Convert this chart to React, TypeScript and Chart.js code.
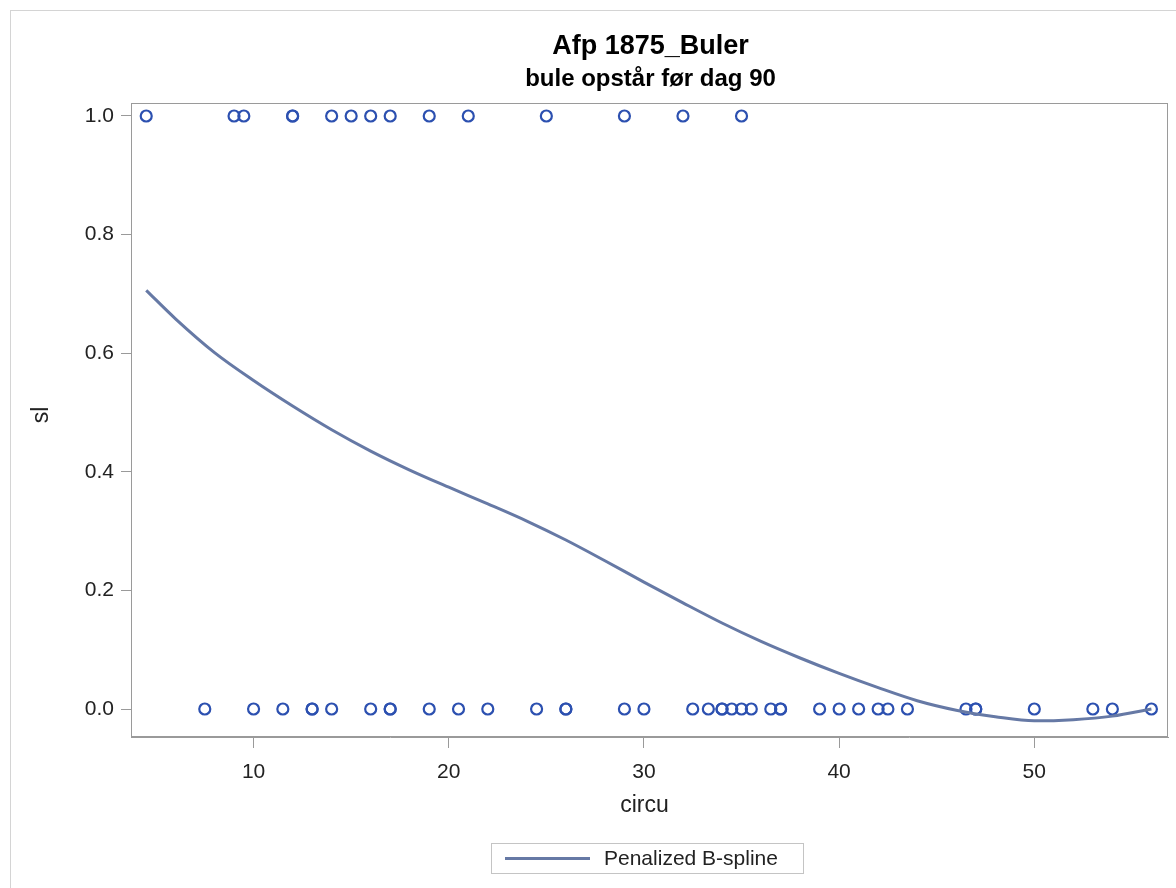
import { useEffect, useRef } from "react";
import { Chart, registerables } from "chart.js";

Chart.register(...registerables);

// ---- data ----
const eventX = [4.5, 9, 9.5, 12, 12, 14, 15, 16, 17, 19, 21, 25, 29, 32, 35]; // sl = 1
const noEventX = [
  7.5, 10, 11.5, 13, 13, 14, 16, 17, 17, 19, 20.5, 22, 24.5, 26, 26, 29, 30,
  32.5, 33.3, 34, 34, 34.5, 35, 35.5, 36.5, 37, 37, 39, 40, 41, 42, 42.5, 43.5,
  46.5, 47, 47, 50, 53, 54, 56,
]; // sl = 0
const splineX = [4.5, 6, 8, 10, 12, 14, 16, 18, 20, 22, 24, 26, 28, 30, 32, 34, 36, 38, 40, 42, 44, 46, 48, 50, 52, 54, 56];
const splineY = [
  0.706, 0.658, 0.601, 0.554, 0.511, 0.471, 0.435, 0.403, 0.374, 0.346, 0.317,
  0.285, 0.25, 0.214, 0.179, 0.145, 0.114, 0.086, 0.06, 0.036, 0.014, -0.002,
  -0.013, -0.02, -0.018, -0.012, 0.0,
];
const xTicks = [10, 20, 30, 40, 50];
const yTicks = [0, 0.2, 0.4, 0.6, 0.8, 1.0];

const titleText = "Afp 1875_Buler";
const subtitleText = "bule opstår før dag 90";
const xLabel = "circu";
const yLabel = "sl";
const legendLabel = "Penalized B-spline";

const FONT = "'Liberation Sans', Arial, Helvetica, sans-serif";
const MARKER = "#2c50b0";
const LINE = "#6679a5";
const AXIS = "#9a9a9a";

const decorPlugin = {
  id: "decor",
  afterDraw(chart: any) {
    const { ctx, chartArea } = chart;
    const { left, right, top, bottom } = chartArea;
    ctx.save();
    // outer frame
    ctx.strokeStyle = "#d4d4d4";
    ctx.lineWidth = 1;
    ctx.strokeRect(10.5, 10.5, 1300, 1000);
    // plot wall border
    ctx.strokeStyle = AXIS;
    ctx.strokeRect(left + 0.5, top + 0.5, right - left - 1, bottom - top - 1);

    const cx = (left + right) / 2;
    ctx.fillStyle = "#000";
    ctx.textAlign = "center";
    ctx.textBaseline = "middle";
    ctx.font = `bold 27px ${FONT}`;
    ctx.fillText(titleText, cx + 1, 47);
    ctx.font = `bold 24px ${FONT}`;
    ctx.fillText(subtitleText, cx + 1, 79);

    // axis titles
    ctx.font = `23px ${FONT}`;
    ctx.fillStyle = "#222";
    ctx.fillText(xLabel, cx - 5, 806);
    ctx.save();
    ctx.translate(42, (top + bottom) / 2 - 5);
    ctx.rotate(-Math.PI / 2);
    ctx.fillText(yLabel, 0, 0);
    ctx.restore();

    // legend
    ctx.strokeStyle = "#c4c4c4";
    ctx.lineWidth = 1;
    ctx.strokeRect(491.5, 843.5, 312, 30);
    ctx.strokeStyle = LINE;
    ctx.lineWidth = 3;
    ctx.beginPath();
    ctx.moveTo(505, 858.5);
    ctx.lineTo(590, 858.5);
    ctx.stroke();
    ctx.fillStyle = "#222";
    ctx.textAlign = "left";
    ctx.font = `21px ${FONT}`;
    ctx.fillText(legendLabel, 604, 859);
    ctx.restore();
  },
};

export default function App() {
  const ref = useRef<HTMLCanvasElement | null>(null);
  useEffect(() => {
    if (!ref.current) return;
    const points = [
      ...eventX.map((x) => ({ x, y: 1 })),
      ...noEventX.map((x) => ({ x, y: 0 })),
    ];
    const spline = splineX.map((x, i) => ({ x, y: splineY[i] }));
    const chart = new Chart(ref.current, {
      type: "scatter",
      data: {
        datasets: [
          {
            type: "scatter",
            label: "sl",
            data: points,
            pointStyle: "circle",
            pointRadius: 5.5,
            pointBorderWidth: 2.2,
            pointBorderColor: MARKER,
            pointBackgroundColor: "rgba(0,0,0,0)",
            borderColor: MARKER,
            backgroundColor: "rgba(0,0,0,0)",
            clip: false,
            order: 2,
          } as any,
          {
            type: "line",
            label: legendLabel,
            data: spline,
            borderColor: LINE,
            borderWidth: 3,
            pointRadius: 0,
            cubicInterpolationMode: "monotone",
            fill: false,
            clip: false,
            order: 1,
          } as any,
        ],
      },
      options: {
        animation: false,
        responsive: false,
        maintainAspectRatio: false,
        layout: { padding: { left: 0, top: 103, right: 8, bottom: 0 } },
        plugins: {
          legend: { display: false },
          title: { display: false },
          tooltip: { enabled: false },
        },
        scales: {
          x: {
            type: "linear",
            min: 3.72,
            max: 56.85,
            afterBuildTicks: (s: any) => {
              s.ticks = xTicks.map((v) => ({ value: v }));
            },
            afterFit: (s: any) => {
              s.height = 151;
            },
            grid: {
              drawOnChartArea: false,
              drawTicks: true,
              tickLength: 11,
              color: AXIS,
            },
            border: { display: true, color: AXIS },
            ticks: {
              padding: 12,
              color: "#222",
              font: { family: FONT, size: 21 },
              maxRotation: 0,
              callback: (v: any) => String(v),
            },
          },
          y: {
            type: "linear",
            min: -0.0472,
            max: 1.0219,
            afterBuildTicks: (s: any) => {
              s.ticks = yTicks.map((v) => ({ value: v }));
            },
            afterFit: (s: any) => {
              s.width = 131;
            },
            grid: {
              drawOnChartArea: false,
              drawTicks: true,
              tickLength: 10,
              color: AXIS,
            },
            border: { display: true, color: AXIS },
            ticks: {
              padding: 7,
              color: "#222",
              font: { family: FONT, size: 21 },
              callback: (v: any) => Number(v).toFixed(1),
            },
          },
        },
      },
      plugins: [decorPlugin],
    });
    return () => chart.destroy();
  }, []);

  return (
    <div style={{ position: "fixed", left: 0, top: 0, width: 1176, height: 888, background: "#fff" }}>
      <canvas ref={ref} width={1176} height={888} style={{ width: 1176, height: 888, display: "block" }} />
    </div>
  );
}
